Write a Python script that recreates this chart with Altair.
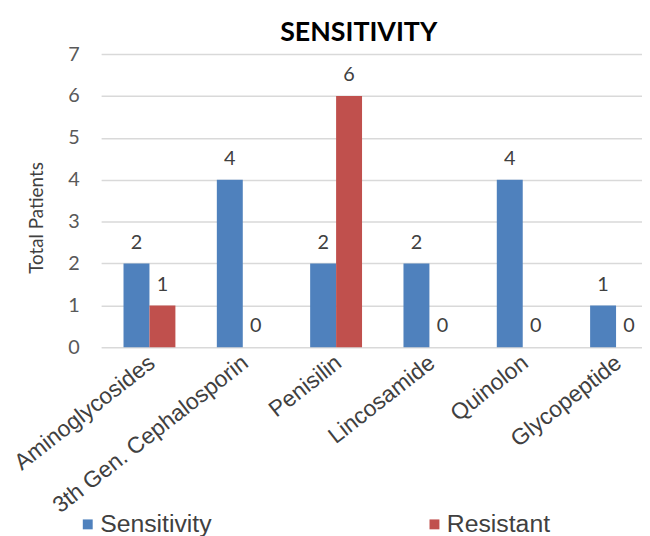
import altair as alt
import pandas as pd

categories = ["Aminoglycosides", "3th Gen. Cephalosporin", "Penisilin",
              "Lincosamide", "Quinolon", "Glycopeptide"]
sensitivity = [2, 4, 2, 2, 4, 1]
resistant = [1, 0, 6, 0, 0, 0]
series = ["Sensitivity", "Resistant"]
colors = ["#4F81BD", "#C0504D"]
y_ticks = [0, 1, 2, 3, 4, 5, 6, 7]

rows = []
for c, s, r in zip(categories, sensitivity, resistant):
    rows.append({"category": c, "series": series[0], "value": s})
    rows.append({"category": c, "series": series[1], "value": r})
df = pd.DataFrame(rows)

x = alt.X(
    "category:N",
    sort=categories,
    scale=alt.Scale(paddingInner=0.444, paddingOuter=0.12, align=1.0),
    axis=alt.Axis(
        title=None, labelAngle=-38, labelAlign="right", labelBaseline="top",
        labelFont="Liberation Sans", labelFontSize=23, labelColor="#404040",
        labelPadding=4, labelOffset=-4, domain=False, ticks=False, grid=False,
        labelLimit=0,
    ),
)
xo = alt.XOffset("series:N", sort=series,
                 scale=alt.Scale(domain=series, paddingInner=0, paddingOuter=0))
y = alt.Y(
    "value:Q",
    scale=alt.Scale(domain=[0, 7], nice=False),
    axis=alt.Axis(
        values=y_ticks, title="Total Patients", grid=True, gridColor="#D9D9D9",
        gridWidth=1.5, domain=False, ticks=False, labelFont="Lato",
        labelFontSize=20, labelColor="#595959", labelPadding=22,
        titleFont="Lato", titleFontSize=19, titleFontWeight="normal",
        titleColor="#404040", titleX=-55, titleY=165,
    ),
)
color = alt.Color(
    "series:N",
    scale=alt.Scale(domain=series, range=colors),
    legend=alt.Legend(
        title=None, orient="none", legendX=-26, legendY=462,
        direction="horizontal", columns=2, symbolType="square",
        symbolSize=100, symbolStrokeWidth=0, labelFont="Liberation Sans",
        labelFontSize=25, labelColor="#404040", columnPadding=212,
        labelOffset=0, padding=0,
    ),
)

base = alt.Chart(df).encode(x=x, xOffset=xo, y=y)
bars = base.mark_bar().encode(color=color)
labels = base.mark_text(font="Lato", fontSize=20, color="#404040",
                        baseline="alphabetic", dy=-15).encode(text="value:Q")

chart = (
    alt.layer(bars, labels)
    .properties(
        width=546, height=296,
        title=alt.TitleParams("SENSITIVITY", font="Lato", fontSize=27,
                              fontWeight="bold", color="#000000",
                              anchor="middle", dx=-13, offset=-3),
        autosize=alt.AutoSizeParams(type="none"),
        padding={"left": 94, "top": 44, "right": 0, "bottom": 192},
    )
    .configure_view(stroke=None)
)

chart.save("out.html", embed_options={"renderer": "svg", "actions": False})
